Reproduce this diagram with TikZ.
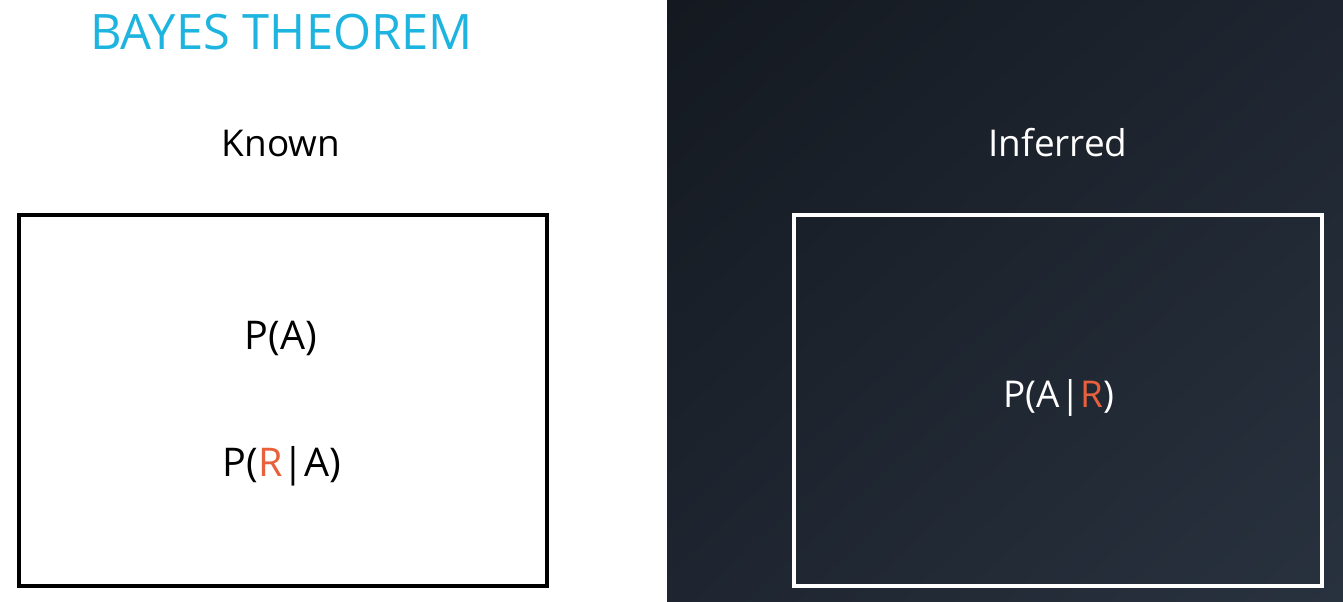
\documentclass[tikz,border=0pt]{standalone}
\usepackage{fontspec}
\setmainfont{Open Sans}
\usepackage{tikz}
\usetikzlibrary{positioning,shadings}

\definecolor{titleblue}{HTML}{1DB4E0}
\definecolor{accent}{HTML}{E8603C}
\definecolor{darkA}{HTML}{141920}
\definecolor{darkB}{HTML}{1E2530}
\definecolor{darkC}{HTML}{28323E}

\begin{document}
\begin{tikzpicture}[
    label/.style={font=\fontsize{21}{25}\selectfont,inner sep=0pt},
    biglabel/.style={font=\fontsize{22.5}{27}\selectfont,inner sep=0pt},
    heading/.style={font=\fontsize{27.8}{33}\selectfont,text=titleblue,inner sep=0pt},
    panel/.style={minimum width=10.56cm,minimum height=7.42cm,line width=2.2pt}
  ]
    \useasboundingbox (0,0) rectangle (26.86,-12.04);
    % dark half
    \shade[upper left=darkA,upper right=darkB,lower left=darkB,lower right=darkC]
      (13.34,0) rectangle (26.86,-12.04);

    \node[heading] (title) at (5.63,-0.64) {BAYES THEOREM};

    \node[label] (known) at (5.62,-2.88) {Known};
    \node[label,text=white] (inferred) at (21.16,-2.86) {Inferred};

    \node[panel,draw=black] (knownbox) at (5.66,-8.01) {};
    \node[panel,draw=white] (inferredbox) at (21.16,-8.01) {};

    \node[biglabel] (pa) at (5.62,-6.76) {P(A)};
    \node[biglabel] (pra) at (5.64,-9.32) {P(\textcolor{accent}{R}|A)};
    \node[label,text=white] (par) at (21.18,-7.96) {P(A|\textcolor{accent}{R})};
  \end{tikzpicture}
\end{document}
